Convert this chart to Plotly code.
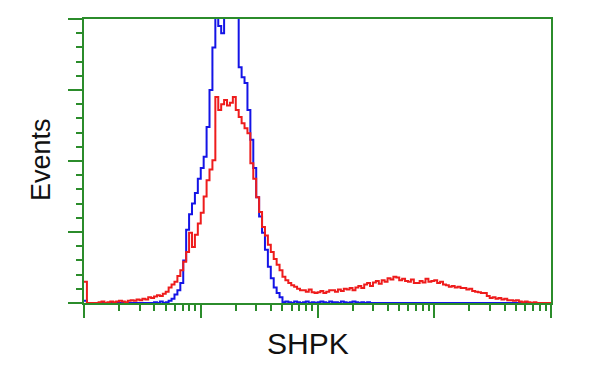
import numpy as np
import plotly.graph_objects as go

# Histogram channels: 40 bins per decade over 4 decades (1 .. 10^4)
bins_per_decade = 40
n_bins = 160

red_counts = [
    30, 0, 0, 0, 0, 1, 2, 0, 1, 2,
    1, 2, 3, 2, 1, 3, 4, 3, 5, 4,
    6, 5, 8, 7, 9, 11, 10, 13, 16, 22,
    26, 30, 38, 46, 58, 72, 99, 79, 96, 112,
    127, 150, 173, 188, 201, 290, 272, 280, 286, 278,
    282, 290, 272, 262, 253, 246, 239, 197, 175, 149,
    128, 107, 95, 82, 72, 62, 54, 46, 37, 32,
    28, 25, 23, 20, 18, 18, 16, 19, 15, 14,
    15, 17, 14, 16, 18, 18, 16, 19, 17, 20,
    19, 21, 18, 22, 24, 21, 26, 28, 24, 29,
    31, 27, 32, 30, 35, 33, 37, 36, 32, 34,
    31, 30, 33, 28, 28, 31, 29, 34, 30, 31,
    32, 28, 30, 26, 25, 23, 24, 22, 23, 21,
    21, 19, 20, 17, 16, 15, 14, 14, 10, 7,
    8, 6, 7, 5, 6, 4, 4, 3, 4, 2,
    1, 2, 1, 0, 1, 0, 0, 0, 0, 0,
]

blue_counts = [
    3, 0, 0, 0, 0, 0, 0, 0, 0, 0,
    0, 0, 0, 0, 0, 0, 0, 0, 0, 0,
    0, 0, 0, 0, 1, 0, 2, 0, 1, 3,
    6, 12, 18, 28, 60, 103, 125, 140, 155, 175,
    190, 206, 248, 300, 360, 420, 390, 380, 430, 440,
    440, 430, 410, 332, 318, 310, 272, 230, 190, 149,
    122, 99, 75, 51, 35, 22, 14, 8, 1, 2,
    1, 0, 2, 1, 0, 1, 2, 0, 1, 0,
    1, 2, 1, 0, 2, 1, 1, 0, 2, 1,
    0, 1, 2, 1, 0, 1, 0, 1, 0, 0,
    0, 0, 0, 0, 0, 0, 0, 0, 0, 0,
    0, 0, 0, 0, 0, 0, 0, 0, 0, 0,
    0, 0, 0, 0, 0, 0, 0, 0, 0, 0,
    0, 0, 0, 0, 0, 0, 0, 0, 0, 0,
    0, 0, 0, 0, 0, 0, 0, 0, 0, 0,
    0, 0, 0, 0, 0, 0, 0, 0, 0, 0,
]

x_major = [1, 10, 100, 1000, 10000]
x_minor = [m * d for d in [1, 10, 100, 1000] for m in range(2, 10)]
y_major = [0, 100, 200, 300, 400]
y_minor = [v for v in range(0, 401, 20) if v % 100 != 0]

x_title = "SHPK"
y_title = "Events"

edges = 10 ** (np.arange(n_bins + 1) / bins_per_decade)

GREEN = "#2b8c2b"


def step_xy(counts):
    xs = list(edges)
    ys = list(counts) + [counts[-1]]
    return xs, ys


fig = go.Figure()
bx, by = step_xy(blue_counts)
rx, ry = step_xy(red_counts)
fig.add_trace(go.Scatter(x=bx, y=by, mode="lines", line=dict(color="#1414e6", width=2, shape="hv"),
                         showlegend=False, hoverinfo="skip"))
fig.add_trace(go.Scatter(x=rx, y=ry, mode="lines", line=dict(color="#ee1c1c", width=2, shape="hv"),
                         showlegend=False, hoverinfo="skip"))

fig.update_layout(
    width=600, height=375,
    margin=dict(l=84, r=49, t=19, b=72),
    paper_bgcolor="white", plot_bgcolor="white",
    font=dict(family="Liberation Sans, Arial, sans-serif", color="#111111"),
    xaxis=dict(
        type="log", range=[0, 4], showgrid=False, zeroline=False,
        showline=True, mirror=True, linecolor=GREEN, linewidth=2,
        tickmode="array", tickvals=x_major, showticklabels=False,
        ticks="outside", ticklen=13, tickwidth=2, tickcolor=GREEN,
        minor=dict(tickvals=x_minor, ticks="outside", ticklen=6, tickwidth=2,
                   tickcolor=GREEN, showgrid=False),
    ),
    yaxis=dict(
        range=[0, 400], showgrid=False, zeroline=False,
        showline=True, mirror=True, linecolor=GREEN, linewidth=2,
        tickmode="array", tickvals=y_major, showticklabels=False,
        ticks="outside", ticklen=14, tickwidth=2, tickcolor=GREEN,
        minor=dict(tickvals=y_minor, ticks="outside", ticklen=6, tickwidth=2,
                   tickcolor=GREEN, showgrid=False),
    ),
    annotations=[
        dict(text=x_title, xref="paper", yref="paper", x=0.48, y=-0.144,
             xanchor="center", yanchor="middle", showarrow=False,
             font=dict(size=30, color="#111111")),
        dict(text=y_title, xref="paper", yref="paper", x=-0.092, y=0.5035,
             xanchor="center", yanchor="middle", showarrow=False, textangle=-90,
             font=dict(size=27, color="#111111")),
    ],
)

fig.write_html("out.html")
